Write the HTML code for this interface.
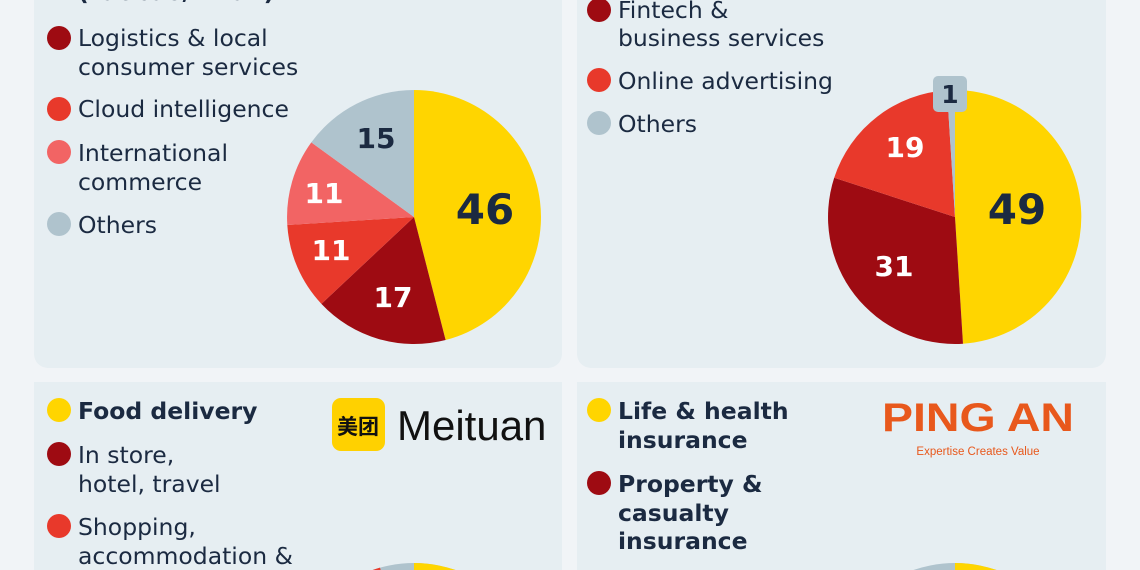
<!DOCTYPE html>
<html><head><meta charset="utf-8"><style>
html,body{margin:0;width:1140px;height:570px;overflow:hidden;background:#f1f4f7;font-family:"Liberation Sans","DejaVu Sans",sans-serif;}
svg{display:block}
</style></head><body>
<svg width="1140" height="570" xmlns="http://www.w3.org/2000/svg" font-family="'DejaVu Sans','Liberation Sans',sans-serif">
<defs><clipPath id="c"><rect x="0" y="0" width="1140" height="570"/></clipPath></defs>
<rect x="34" y="-20" width="528" height="388" rx="14" fill="#e6eef2"/>
<rect x="577" y="-20" width="529" height="388" rx="14" fill="#e6eef2"/>
<rect x="34" y="382" width="528" height="188" fill="#e6eef2"/>
<rect x="577" y="382" width="529" height="188" fill="#e6eef2"/>
<g fill="#1b2a41" font-size="23.5">
<text x="78" y="0" font-weight="bold">(Taobao/Tmall)</text>
<circle cx="59" cy="38" r="12" fill="#9e0b12"/>
<text x="78" y="46">Logistics &amp; local</text><text x="78" y="75">consumer services</text>
<circle cx="59" cy="109" r="12" fill="#e8392b"/>
<text x="78" y="117">Cloud intelligence</text>
<circle cx="59" cy="152" r="12" fill="#f26464"/>
<text x="78" y="161">International</text><text x="78" y="190">commerce</text>
<circle cx="59" cy="224" r="12" fill="#afc3cd"/>
<text x="78" y="233">Others</text>

<circle cx="599" cy="10" r="12" fill="#9e0b12"/>
<text x="618" y="18">Fintech &amp;</text><text x="618" y="46">business services</text>
<circle cx="599" cy="80" r="12" fill="#e8392b"/>
<text x="618" y="89">Online advertising</text>
<circle cx="599" cy="123" r="12" fill="#afc3cd"/>
<text x="618" y="132">Others</text>

<circle cx="59" cy="410" r="12" fill="#ffd500"/>
<text x="78" y="419" font-weight="bold">Food delivery</text>
<circle cx="59" cy="454" r="12" fill="#9e0b12"/>
<text x="78" y="463">In store,</text><text x="78" y="492">hotel, travel</text>
<circle cx="59" cy="526" r="12" fill="#e8392b"/>
<text x="78" y="535">Shopping,</text><text x="78" y="564">accommodation &amp;</text>

<circle cx="599" cy="410" r="12" fill="#ffd500"/>
<text x="618" y="419" font-weight="bold">Life &amp; health</text><text x="618" y="448" font-weight="bold">insurance</text>
<circle cx="599" cy="483" r="12" fill="#9e0b12"/>
<text x="618" y="492" font-weight="bold">Property &amp;</text><text x="618" y="521" font-weight="bold">casualty</text><text x="618" y="549" font-weight="bold">insurance</text>
</g>
<path d="M414,217 L414,90 A127,127 0 0 1 445.6,340 Z" fill="#ffd500"/>
<path d="M414,217 L445.6,340 A127,127 0 0 1 321.4,303.9 Z" fill="#9e0b12"/>
<path d="M414,217 L321.4,303.9 A127,127 0 0 1 287.3,225 Z" fill="#e8392b"/>
<path d="M414,217 L287.3,225 A127,127 0 0 1 311.3,142.4 Z" fill="#f26464"/>
<path d="M414,217 L311.3,142.4 A127,127 0 0 1 414,90 Z" fill="#afc3cd"/>
<g font-weight="bold" text-anchor="middle">
<text x="485" y="224" font-size="42" fill="#1b2a41">46</text>
<text x="393" y="307" font-size="28" fill="#fff">17</text>
<text x="331" y="260" font-size="28" fill="#fff">11</text>
<text x="324" y="203" font-size="28" fill="#fff">11</text>
<text x="376" y="148" font-size="28" fill="#1b2a41">15</text>
</g>
<path d="M955,217 L955,90 A127,127 0 0 1 963,343.7 Z" fill="#ffd500"/>
<path d="M955,217 L963,343.7 A127,127 0 0 1 834.2,177.8 Z" fill="#9e0b12"/>
<path d="M955,217 L834.2,177.8 A127,127 0 0 1 947,90.3 Z" fill="#e8392b"/>
<path d="M955,217 L947,90.3 A127,127 0 0 1 955,90 Z" fill="#afc3cd"/>
<rect x="933" y="76" width="34" height="36" rx="5" fill="#afc3cd"/>
<g font-weight="bold" text-anchor="middle">
<text x="950" y="103" font-size="25" fill="#1b2a41">1</text>
<text x="1017" y="224" font-size="42" fill="#1b2a41">49</text>
<text x="894" y="276" font-size="28" fill="#fff">31</text>
<text x="905" y="157" font-size="28" fill="#fff">19</text>
</g>
<g clip-path="url(#c)">
<circle cx="414" cy="690" r="127" fill="#afc3cd"/>
<path d="M414,690 L414,563 A127,127 0 0 1 541,690 Z" fill="#ffd500"/>
<path d="M414,690 L370,571 A127,127 0 0 1 380,567.6 Z" fill="#e8392b"/>
<circle cx="955" cy="690" r="127" fill="#afc3cd"/>
<path d="M955,690 L955,563 A127,127 0 0 1 1082,690 Z" fill="#ffd500"/>
</g>
<rect x="332" y="398" width="53" height="53" rx="9" fill="#ffd100"/>
<text x="358" y="434" font-size="21" text-anchor="middle" fill="#111" font-family="'Noto Sans CJK SC',sans-serif" font-weight="bold">美团</text>
<text x="397" y="440" font-size="42" fill="#111" font-family="'Liberation Sans',sans-serif">Meituan</text>
<text x="882" y="431" font-size="40" font-weight="bold" fill="#e8581c" font-family="'Liberation Sans',sans-serif" textLength="192" lengthAdjust="spacingAndGlyphs">PING AN</text>
<text x="978" y="455" font-size="11.5" fill="#e8581c" text-anchor="middle" font-family="'Liberation Sans',sans-serif">Expertise Creates Value</text>
</svg>
</body></html>
